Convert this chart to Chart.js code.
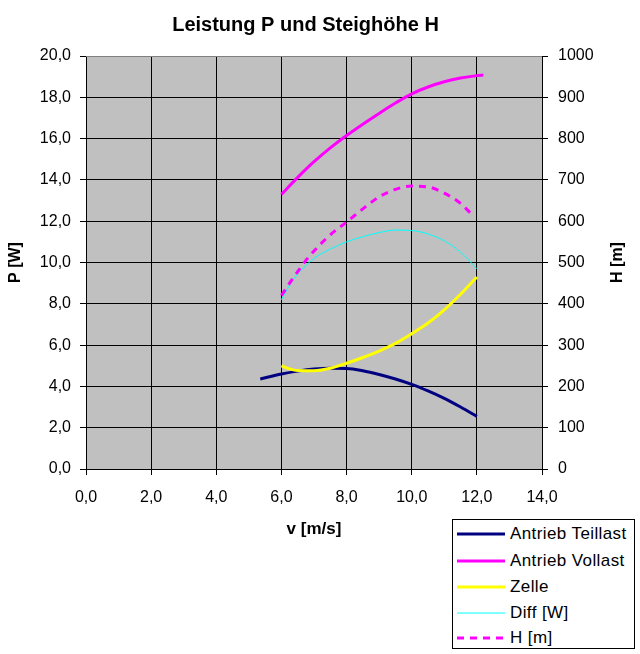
<!DOCTYPE html>
<html>
<head>
<meta charset="utf-8">
<script src="https://cdn.jsdelivr.net/npm/chart.js@4/dist/chart.umd.min.js"></script>
<style>
  html, body { margin: 0; padding: 0; background: #fff; }
  #wrap { position: relative; width: 640px; height: 654px; }
  #legend { position: absolute; left: 452px; top: 519px; width: 181px; height: 128px;
            border: 1px solid #000; background: #fff; font-family: "Liberation Sans", Arial, sans-serif; font-size: 17px; letter-spacing: 0.4px; }
  .row { position: absolute; left: 0; height: 20px; width: 181px; }
  .row svg { position: absolute; left: 4px; top: 4px; }
  .row span { position: absolute; left: 57px; top: 0; line-height: 20px; white-space: nowrap; color: #000; }
</style>
</head>
<body>
<div id="wrap">
  <canvas id="c" width="640" height="654"></canvas>
  <div id="legend"></div>
</div>
<script>
// ---- data ----
const chartTitle = "Leistung P und Steighöhe H";
const xTitle = "v [m/s]";
const yTitle = "P [W]";
const y2Title = "H [m]";

const vTeillast = [5.35, 6.0, 6.5, 7.0, 7.5, 8.0, 8.5, 9.0, 9.5, 10.0, 10.5, 11.0, 11.5, 12.0];
const pTeillast = [4.36, 4.6, 4.74, 4.84, 4.88, 4.87, 4.76, 4.58, 4.36, 4.1, 3.78, 3.42, 3.0, 2.55];

const vVollast = [6.0, 6.5, 7.0, 7.5, 8.0, 8.5, 9.0, 9.5, 10.0, 10.5, 11.0, 11.5, 12.0, 12.2];
const pVollast = [13.3, 14.12, 14.88, 15.55, 16.15, 16.7, 17.22, 17.72, 18.17, 18.5, 18.75, 18.93, 19.05, 19.08];

const vZelle = [6.0, 6.25, 6.5, 7.0, 7.5, 8.0, 8.5, 9.0, 9.5, 10.0, 10.5, 11.0, 11.5, 12.0];
const pZelle = [5.0, 4.85, 4.77, 4.76, 4.88, 5.12, 5.4, 5.71, 6.08, 6.55, 7.07, 7.71, 8.46, 9.3];

const vDiff = [6.0, 6.25, 6.5, 6.75, 7.0, 7.5, 8.0, 8.5, 9.0, 9.5, 10.0, 10.5, 11.0, 11.5, 12.0];
const pDiff = [8.2, 8.9, 9.45, 9.85, 10.2, 10.65, 11.0, 11.25, 11.45, 11.57, 11.55, 11.38, 11.05, 10.5, 9.7];

const vH = [6.0, 6.25, 6.5, 6.75, 7.0, 7.5, 8.0, 8.5, 9.0, 9.5, 10.0, 10.5, 11.0, 11.5, 11.8];
const hH = [420, 450, 478, 505, 528, 567, 598, 630, 659, 677, 685, 683, 668, 643, 620];

const seriesNames = ["Antrieb Teillast", "Antrieb Vollast", "Zelle", "Diff [W]", "H [m]"];
const seriesColors = ["#000080", "#FF00FF", "#FFFF00", "#00FFFF", "#FF00FF"];

const xMin = 0, xMax = 14, xStep = 2;
const yMin = 0, yMax = 20, yStep = 2;
const y2Min = 0, y2Max = 1000, y2Step = 100;

// ---- build ----
const pts = (xs, ys) => xs.map((x, i) => ({ x: x, y: ys[i] }));
const FONT = '"Liberation Sans", Arial, sans-serif';
const comma1 = v => Number(v).toFixed(1).replace('.', ',');

const widths = [3, 3, 3, 1, 3];
const dashes = [[], [], [], [], [7, 6]];
const seriesData = [
  pts(vTeillast, pTeillast), pts(vVollast, pVollast), pts(vZelle, pZelle),
  pts(vDiff, pDiff), pts(vH, hH)
];
const axisIds = ['y', 'y', 'y', 'y', 'y2'];

const datasets = seriesNames.map((n, i) => ({
  label: n,
  data: seriesData[i],
  yAxisID: axisIds[i],
  borderColor: seriesColors[i],
  backgroundColor: seriesColors[i],
  borderWidth: widths[i],
  borderDash: dashes[i],
  pointRadius: 0,
  pointHoverRadius: 0,
  fill: false,
  cubicInterpolationMode: 'monotone',
  order: seriesNames.length - i
}));

const decor = {
  id: 'decor',
  beforeDraw(chart) {
    const { ctx, chartArea: a } = chart;
    ctx.save();
    ctx.fillStyle = '#C0C0C0';
    ctx.fillRect(a.left, a.top, a.right - a.left, a.bottom - a.top);
    ctx.restore();
  },
  afterDraw(chart) {
    const { ctx, chartArea: a } = chart;
    ctx.save();
    ctx.strokeStyle = '#808080';
    ctx.lineWidth = 1;
    ctx.beginPath();
    ctx.moveTo(a.left, a.top + 0.5);
    ctx.lineTo(a.right, a.top + 0.5);
    ctx.stroke();
    ctx.fillStyle = '#000';
    ctx.font = 'bold 20px ' + FONT;
    ctx.textAlign = 'center';
    ctx.textBaseline = 'alphabetic';
    ctx.fillText(chartTitle, 305.5, 31);
    ctx.font = 'bold 16px ' + FONT;
    ctx.translate(622, (a.top + a.bottom) / 2);
    ctx.rotate(-Math.PI / 2);
    ctx.textAlign = 'center';
    ctx.fillText(y2Title, 0, 0);
    ctx.restore();
  }
};

new Chart(document.getElementById('c'), {
  type: 'line',
  data: { datasets: datasets },
  plugins: [decor],
  options: {
    responsive: false,
    animation: false,
    events: [],
    layout: { padding: { top: 56, left: 0, right: 0, bottom: 0 } },
    plugins: { legend: { display: false }, title: { display: false }, tooltip: { enabled: false } },
    scales: {
      x: {
        type: 'linear', min: xMin, max: xMax,
        ticks: { stepSize: xStep, color: '#000', font: { family: FONT, size: 16 }, padding: 13, callback: comma1, maxRotation: 0 },
        grid: { color: '#000', tickColor: '#000', tickLength: 6, lineWidth: 1 },
        border: { color: '#000', width: 1 },
        title: { display: true, text: xTitle, color: '#000', font: { family: FONT, size: 17, weight: 'bold' }, padding: { top: 0, bottom: 114 } },
        afterFit(s) { s.height = 185; }
      },
      y: {
        type: 'linear', position: 'left', min: yMin, max: yMax,
        ticks: { stepSize: yStep, color: '#000', font: { family: FONT, size: 16 }, padding: 9, callback: comma1 },
        grid: { color: ctx => (ctx.tick && ctx.tick.value === yMax) ? 'rgba(0,0,0,0)' : '#000', tickColor: '#000', tickLength: 6, lineWidth: 1 },
        border: { color: '#000', width: 1 },
        title: { display: true, text: yTitle, color: '#000', font: { family: FONT, size: 16, weight: 'bold' }, padding: { top: 6, bottom: 0 } },
        afterFit(s) { s.width = 86; }
      },
      y2: {
        type: 'linear', position: 'right', min: y2Min, max: y2Max,
        ticks: { stepSize: y2Step, color: '#000', font: { family: FONT, size: 16 }, padding: 10, callback: v => String(v) },
        grid: { drawOnChartArea: false, color: '#000', tickColor: '#000', tickLength: 6 },
        border: { color: '#000', width: 1 },
        afterFit(s) { s.width = 98; }
      }
    }
  }
});

// ---- HTML legend built from the series ----
const legend = document.getElementById('legend');
const rowTops = [4, 31, 57, 83, 108];
seriesNames.forEach((n, i) => {
  const row = document.createElement('div');
  row.className = 'row';
  row.style.top = rowTops[i] + 'px';
  const dash = dashes[i].length ? ` stroke-dasharray="${dashes[i].join(' ')}"` : '';
  row.innerHTML = `<svg width="50" height="12"><line x1="0" y1="6" x2="48" y2="6" stroke="${seriesColors[i]}" stroke-width="${widths[i]}"${dash}/></svg><span>${n}</span>`;
  legend.appendChild(row);
});
</script>
</body>
</html>
